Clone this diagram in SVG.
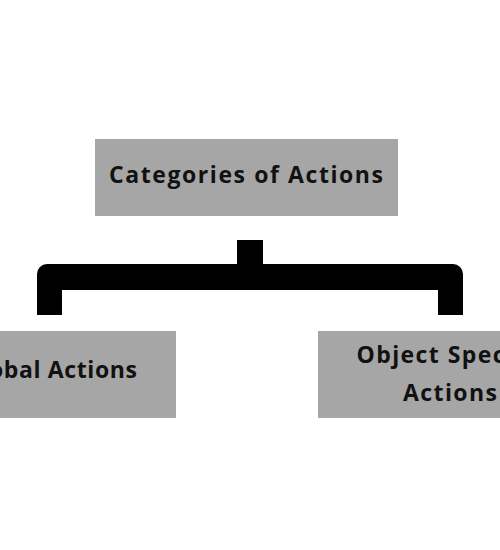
<svg xmlns="http://www.w3.org/2000/svg" width="500" height="550" viewBox="0 0 500 550">
<style>
.box{fill:#a6a6a6}
.lbl{font-family:"Open Sans","Liberation Sans",sans-serif;font-weight:bold;font-size:23px;fill:#111}
</style>
<rect width="500" height="550" fill="#fff"/>
<g id="connectors">
<path d="M237,240 H263 V264 H453 A10,10 0 0 1 463,274 V315 H438 V290 H62 V315 H37 V274 A10,10 0 0 1 47,264 H237 Z" fill="#000"/>
</g>
<g id="root">
<rect class="box" x="95" y="139" width="303" height="77"/>
<text class="lbl" x="109" y="183" textLength="274" lengthAdjust="spacing">Categories of Actions</text>
</g>
<g id="global">
<rect class="box" x="-90" y="331" width="266" height="87"/>
<text class="lbl" x="-36" y="378" textLength="173" lengthAdjust="spacing">Global Actions</text>
</g>
<g id="object">
<rect class="box" x="318" y="331" width="264" height="87"/>
<text class="lbl" x="450" y="363" text-anchor="middle" textLength="187" lengthAdjust="spacing">Object Specific</text>
<text class="lbl" x="450" y="401" text-anchor="middle" textLength="94" lengthAdjust="spacing">Actions</text>
</g>
</svg>
